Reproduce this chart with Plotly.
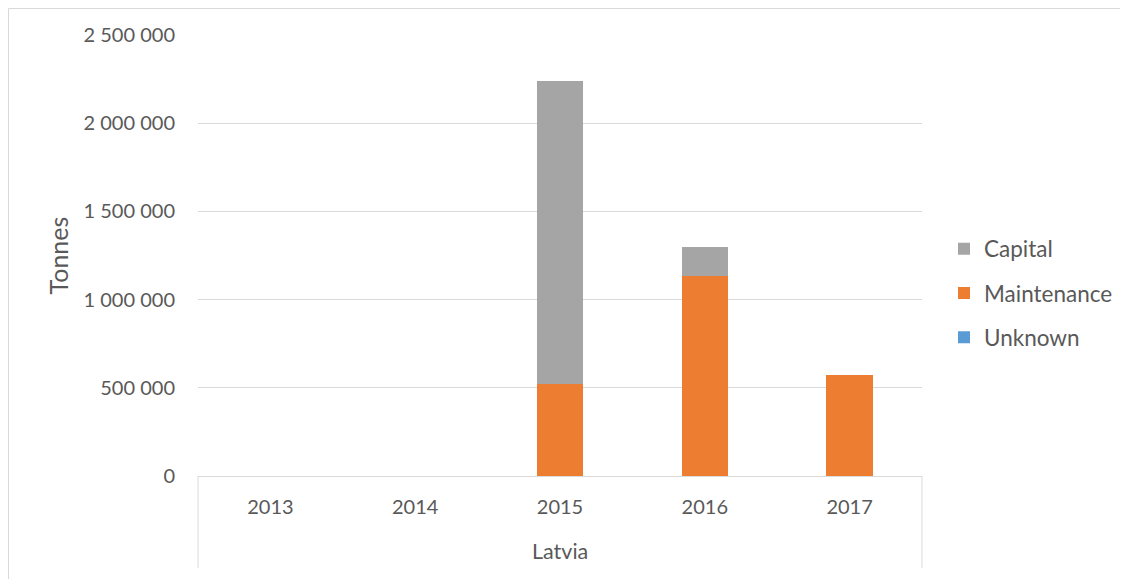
import plotly.graph_objects as go

years = ["2013", "2014", "2015", "2016", "2017"]
group_label = "Latvia"
unknown = [0, 0, 0, 0, 0]
maintenance = [0, 0, 521000, 1135000, 572000]
capital = [0, 0, 1720000, 162000, 0]

FONT = "Lato, 'Open Sans', sans-serif"
TXT = "#595959"
GRID = "#d9d9d9"

OFF = 8  # page body margin
W, H = 1128 - OFF, 579 - OFF
# plot area in page pixels
L, R, T, B = 198, 922, 35, 476
pw, ph = R - L, B - T

def px(x):
    return (x - L) / pw

def py(y):
    return (B - y) / ph

fig = go.Figure()
fig.add_trace(go.Bar(x=years, y=unknown, name="Unknown", marker_color="#5B9BD5",
                     legendgroup="u", legendrank=3, marker_line_width=0))
fig.add_trace(go.Bar(x=years, y=maintenance, name="Maintenance", marker_color="#ED7D31",
                     legendgroup="m", legendrank=2, marker_line_width=0))
fig.add_trace(go.Bar(x=years, y=capital, name="Capital", marker_color="#A5A5A5",
                     legendgroup="c", legendrank=1, marker_line_width=0))

fig.update_layout(
    width=W, height=H,
    margin=dict(l=L - OFF, r=W - (R - OFF), t=T - OFF, b=H - (B - OFF), pad=0,
                autoexpand=False),
    barmode="stack", bargap=0.68,
    paper_bgcolor="white", plot_bgcolor="white",
    font=dict(family=FONT, size=20, color=TXT),
    separators=", ",
    showlegend=True,
    legend=dict(x=px(944), xanchor="left", y=py(293), yanchor="middle",
                traceorder="grouped", tracegroupgap=12,
                font=dict(family=FONT, size=22.5, color=TXT),
                bgcolor="rgba(0,0,0,0)"),
    xaxis=dict(type="category", showgrid=False, showline=True, linecolor=GRID,
               linewidth=1, ticks="", ticklabelstandoff=13,
               tickfont=dict(family=FONT, size=20, color=TXT)),
    yaxis=dict(range=[0, 2500000], dtick=500000, tickformat=",d",
               showgrid=True, gridcolor=GRID, gridwidth=1,
               zeroline=True, zerolinecolor=GRID, zerolinewidth=1,
               showline=False, ticks="", ticklabelstandoff=22,
               tickfont=dict(family=FONT, size=20, color=TXT)),
    annotations=[
        dict(text="Tonnes", x=px(57), y=0.5, xref="paper", yref="paper",
             xanchor="center", yanchor="middle", textangle=-90, showarrow=False,
             font=dict(family=FONT, size=25, color=TXT)),
        dict(text=group_label, x=0.5, y=py(551), xref="paper", yref="paper",
             xanchor="center", yanchor="middle", showarrow=False,
             font=dict(family=FONT, size=21.5, color=TXT)),
    ],
    shapes=[
        dict(type="line", xref="paper", yref="paper", x0=0, x1=0, y0=0, y1=py(568),
             line=dict(color=GRID, width=1)),
        dict(type="line", xref="paper", yref="paper", x0=1, x1=1, y0=0, y1=py(568),
             line=dict(color=GRID, width=1)),
        dict(type="rect", xref="paper", yref="paper", x0=px(OFF + 0.5), x1=px(1300),
             y0=py(700), y1=py(OFF + 0.5), line=dict(color=GRID, width=1),
             fillcolor="rgba(0,0,0,0)"),
    ],
)

fig.write_html("out.html")
